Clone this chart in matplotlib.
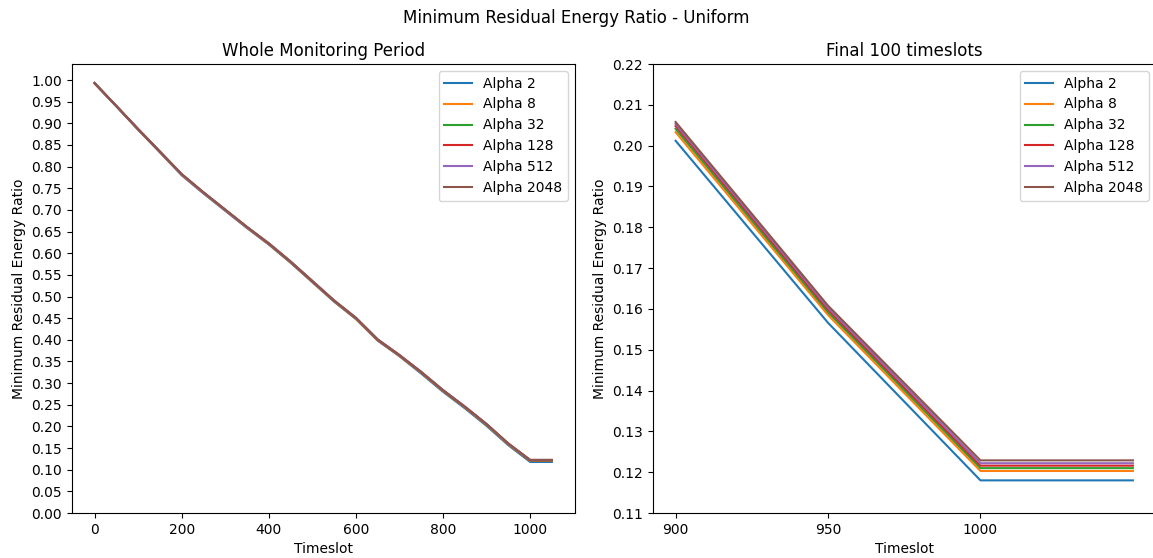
import matplotlib
matplotlib.use("Agg")
import matplotlib.pyplot as plt
import numpy as np

# Timeslots sampled every 50
timeslots = [0, 50, 100, 150, 200, 250, 300, 350, 400, 450, 500,
             550, 600, 650, 700, 750, 800, 850, 900, 950, 1000, 1050]

labels = ['Alpha 2', 'Alpha 8', 'Alpha 32', 'Alpha 128', 'Alpha 512', 'Alpha 2048']

alpha2 = [0.992, 0.939, 0.885, 0.833, 0.780, 0.738, 0.698, 0.658, 0.620, 0.578, 0.533,
          0.488, 0.448, 0.398, 0.362, 0.322, 0.280, 0.242, 0.2012, 0.1566, 0.1180, 0.1180]
alpha8 = [0.992, 0.940, 0.886, 0.834, 0.781, 0.739, 0.699, 0.659, 0.621, 0.579, 0.534,
          0.489, 0.449, 0.399, 0.363, 0.324, 0.282, 0.244, 0.2033, 0.1585, 0.1203, 0.1203]
alpha32 = [0.993, 0.940, 0.886, 0.834, 0.782, 0.740, 0.700, 0.660, 0.622, 0.580, 0.535,
           0.490, 0.450, 0.400, 0.364, 0.325, 0.283, 0.245, 0.2041, 0.1592, 0.1210, 0.1210]
alpha128 = [0.993, 0.940, 0.886, 0.834, 0.782, 0.740, 0.700, 0.660, 0.622, 0.580, 0.535,
            0.490, 0.450, 0.400, 0.364, 0.325, 0.283, 0.245, 0.2048, 0.1598, 0.1216, 0.1216]
alpha512 = [0.993, 0.940, 0.887, 0.835, 0.782, 0.740, 0.700, 0.660, 0.623, 0.581, 0.536,
            0.491, 0.451, 0.401, 0.365, 0.326, 0.284, 0.246, 0.2053, 0.1603, 0.1222, 0.1222]
alpha2048 = [0.993, 0.940, 0.887, 0.835, 0.783, 0.741, 0.701, 0.661, 0.623, 0.581, 0.536,
             0.491, 0.451, 0.401, 0.365, 0.326, 0.284, 0.246, 0.2058, 0.1608, 0.1229, 0.1229]

series = [alpha2, alpha8, alpha32, alpha128, alpha512, alpha2048]

fig = plt.figure(figsize=(11.53, 5.58), dpi=100)
ax1 = fig.add_axes([0.0622, 0.0806, 0.4363, 0.8047])
ax2 = fig.add_axes([0.5661, 0.0806, 0.4363, 0.8047])

for vals, lab in zip(series, labels):
    ax1.plot(timeslots, vals, label=lab)
ax1.set_title('Whole Monitoring Period')
ax1.set_xlabel('Timeslot')
ax1.set_ylabel('Minimum Residual Energy Ratio')
ax1.set_yticks(np.arange(0, 1.05, 0.05))
ax1.set_ylim(0, 1.037)
ax1.legend(loc='upper right')

# final 100 timeslots: from 900 onward
start = timeslots.index(900)
for vals, lab in zip(series, labels):
    ax2.plot(timeslots[start:], vals[start:], label=lab)
ax2.set_title('Final 100 timeslots')
ax2.set_xlabel('Timeslot')
ax2.set_ylabel('Minimum Residual Energy Ratio')
ax2.set_xticks(np.arange(900, 1050, 50))
ax2.set_yticks(np.arange(0.11, 0.225, 0.01))
ax2.set_ylim(0.11, 0.22)
ax2.legend(loc='upper right')

fig.suptitle('Minimum Residual Energy Ratio - Uniform', y=0.983)
fig.savefig('out.png', dpi=100)
